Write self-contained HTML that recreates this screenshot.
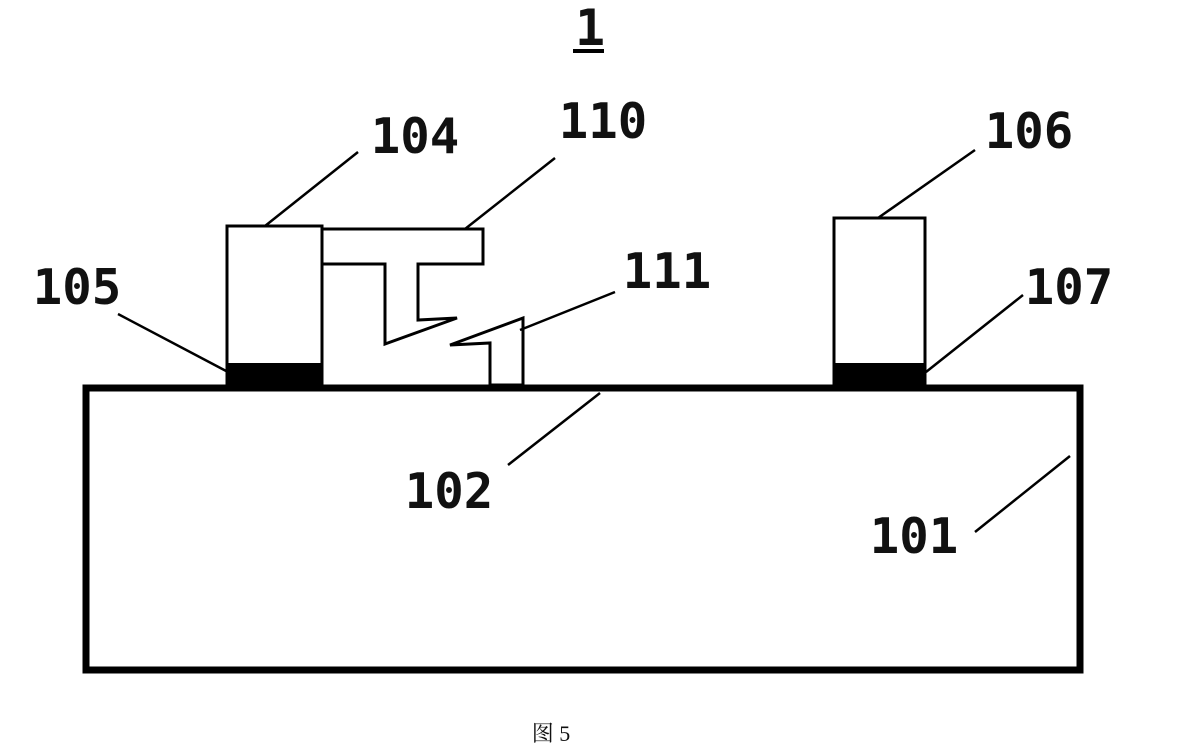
<!DOCTYPE html>
<html><head><meta charset="utf-8"><style>
html,body{margin:0;padding:0;background:#fff;}
svg{display:block;}
text{font-family:"DejaVu Sans Mono","Liberation Mono",monospace;font-weight:bold;fill:#111;}
</style></head><body>
<svg width="1188" height="746" viewBox="0 0 1188 746" xmlns="http://www.w3.org/2000/svg">
<g stroke="#000" fill="none">
<rect x="86" y="388" width="994" height="282" stroke-width="7" fill="#fff"/>
<rect x="227" y="226" width="95" height="160" stroke-width="3" fill="#fff"/>
<rect x="227" y="363" width="95" height="24" fill="#000" stroke="none"/>
<rect x="834" y="218" width="91" height="168" stroke-width="3" fill="#fff"/>
<rect x="834" y="363" width="91" height="24" fill="#000" stroke="none"/>
<polygon points="322,229 483,229 483,264 418,264 418,320 457,318 385,344 385,264 322,264" stroke-width="3" fill="#fff"/>
<polygon points="450,345 523,318 523,385 490,385 490,343" stroke-width="3" fill="#fff"/>
<g stroke-width="2.5">
<line x1="265" y1="226" x2="358" y2="152"/>
<line x1="465" y1="229" x2="555" y2="158"/>
<line x1="878" y1="218" x2="975" y2="150"/>
<line x1="118" y1="314" x2="228" y2="372"/>
<line x1="520" y1="330" x2="615" y2="292"/>
<line x1="926" y1="372" x2="1023" y2="295"/>
<line x1="600" y1="393" x2="508" y2="465"/>
<line x1="1070" y1="456" x2="975" y2="532"/>
</g>
<line x1="573" y1="51" x2="604" y2="51" stroke-width="4"/>
</g>
<text x="590" y="45" font-size="50" text-anchor="middle">1</text>
<text x="415" y="153" font-size="49" text-anchor="middle">104</text>
<text x="603" y="138" font-size="49" text-anchor="middle">110</text>
<text x="1029" y="148" font-size="49" text-anchor="middle">106</text>
<text x="77" y="304" font-size="49" text-anchor="middle">105</text>
<text x="667" y="288" font-size="49" text-anchor="middle">111</text>
<text x="1069" y="304" font-size="49" text-anchor="middle">107</text>
<text x="449" y="508" font-size="49" text-anchor="middle">102</text>
<text x="914" y="553" font-size="49" text-anchor="middle">101</text>
<text x="551" y="741" font-size="22" text-anchor="middle" style="font-family:'Liberation Serif','Noto Serif CJK SC',serif;font-weight:normal">图 5</text>
</svg>
</body></html>
